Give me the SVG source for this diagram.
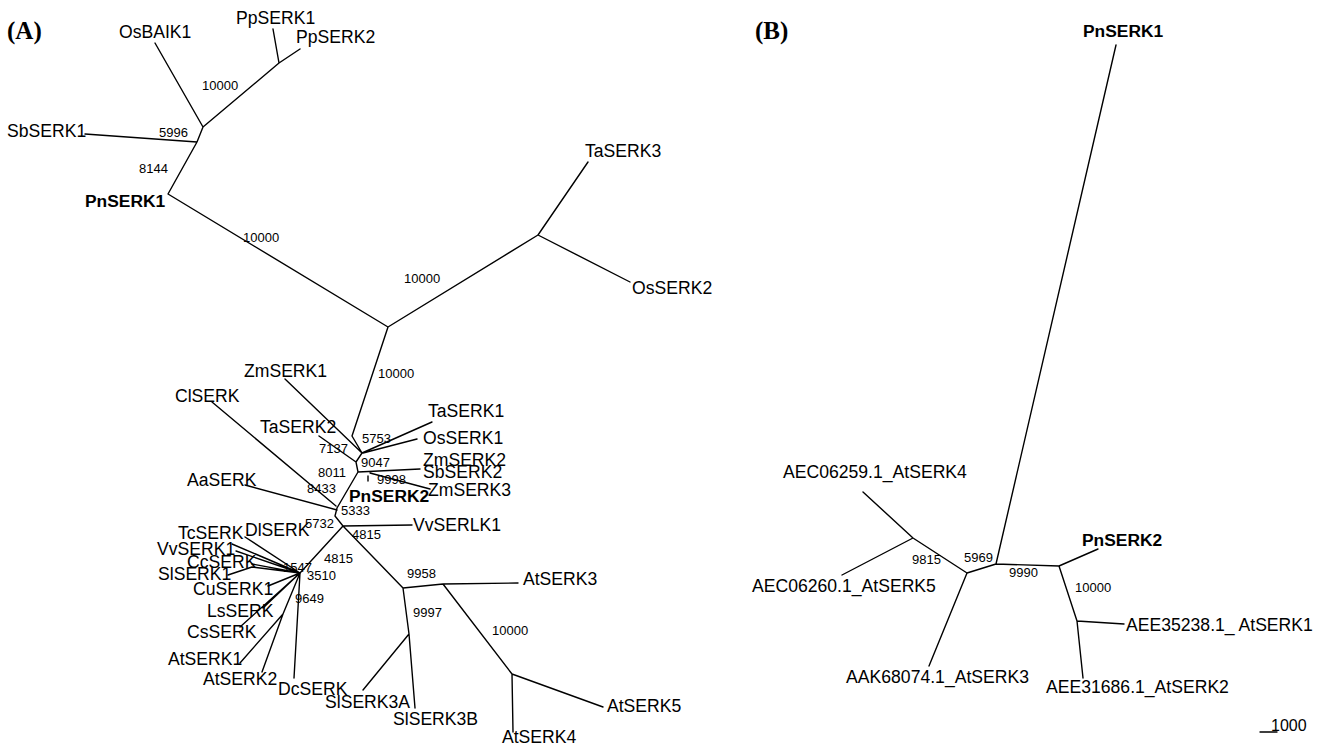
<svg xmlns="http://www.w3.org/2000/svg" width="1324" height="747" viewBox="0 0 1324 747">
<style>
.e{stroke:#000;stroke-width:1.4;fill:none;stroke-linecap:round;stroke-linejoin:round}
.l{font-family:"Liberation Sans",Arial,sans-serif;font-size:17.6px;fill:#000}
.b{font-family:"Liberation Sans",Arial,sans-serif;font-size:17.4px;font-weight:bold;fill:#000}
.n{font-family:"Liberation Sans",Arial,sans-serif;font-size:13px;fill:#000}
.p{font-family:"Liberation Serif","Times New Roman",serif;font-size:25px;font-weight:bold;fill:#000}
</style>
<rect width="1324" height="747" fill="#fff"/>
<text class="p" x="7" y="39">(A)</text>
<text class="p" x="755" y="39">(B)</text>
<g id="connectors">
<g id="treeA">
<path class="e" d="M155,43L203,127M273,29L279,63M300,49L279,63L203,127M85,134L197,142M203,127L197,142L168,194L388,327L538,235M538,235L588,162M538,235L630,282M388,327L352,436L362,453M285,379L362,453M432,422L362,453M417,439L363,453M362,453L356,462L358,472M319,436L356,462M358,472L420,469M370,473L430,489M368,476L368,481M358,472L337,508M212,402L336,506M245,485L337,510M337,508L335,516L343,526M343,526L412,525M343,526L300,573M343,526L403,588L443,584L518,583M443,584L512,674L513,732M512,674L603,707M403,588L409,634L415,708M409,634L363,690"/>
<path class="e" d="M300,573L245,537M300,573L232,544M300,573L236,551M300,573L252,564M228,575L252,567L300,573M300,573L268,586M300,573L263,608M300,573L240,627M300,573L283,614L240,663M283,614L262,672M300,573L294,678"/>
</g>
<g id="treeB">
<path class="e" d="M1116,45L996,564L967,573L913,538L863,492M913,538L842,575M967,573L929,666M996,564L1059,566L1098,549M1059,566L1077,621L1124,624M1077,621L1083,678"/>
</g>
<g id="bootstrap">
<text class="n" x="202" y="90">10000</text>
<text class="n" x="159" y="137">5996</text>
<text class="n" x="139" y="173">8144</text>
<text class="n" x="243" y="242">10000</text>
<text class="n" x="404" y="283">10000</text>
<text class="n" x="378" y="378">10000</text>
<text class="n" x="362" y="443">5753</text>
<text class="n" x="319" y="453">7137</text>
<text class="n" x="361" y="467">9047</text>
<text class="n" x="318" y="477">8011</text>
<text class="n" x="377" y="484">9998</text>
<text class="n" x="307" y="493">8433</text>
<text class="n" x="341" y="515">5333</text>
<text class="n" x="305" y="528">5732</text>
<text class="n" x="352" y="539">4815</text>
<text class="n" x="324" y="563">4815</text>
<text class="n" x="283" y="572">1547</text>
<text class="n" x="307" y="580">3510</text>
<text class="n" x="295" y="603">9649</text>
<text class="n" x="407" y="578">9958</text>
<text class="n" x="413" y="617">9997</text>
<text class="n" x="492" y="635">10000</text>
<text class="n" x="912" y="564">9815</text>
<text class="n" x="964" y="562">5969</text>
<text class="n" x="1009" y="577">9990</text>
<text class="n" x="1075" y="592">10000</text>
</g>
</g>
<g id="n-OsBAIK1"><text class="l" x="119" y="38">OsBAIK1</text></g>
<g id="n-PpSERK1"><text class="l" x="236" y="24">PpSERK1</text></g>
<g id="n-PpSERK2"><text class="l" x="296" y="43">PpSERK2</text></g>
<g id="n-SbSERK1"><text class="l" x="7" y="137">SbSERK1</text></g>
<g id="n-PnSERK1a"><text class="b" x="85" y="207">PnSERK1</text></g>
<g id="n-TaSERK3"><text class="l" x="585" y="157">TaSERK3</text></g>
<g id="n-OsSERK2"><text class="l" x="632" y="294">OsSERK2</text></g>
<g id="n-ZmSERK1"><text class="l" x="244" y="377">ZmSERK1</text></g>
<g id="n-ClSERK"><text class="l" x="175" y="402">ClSERK</text></g>
<g id="n-TaSERK2"><text class="l" x="260" y="433">TaSERK2</text></g>
<g id="n-TaSERK1"><text class="l" x="428" y="417">TaSERK1</text></g>
<g id="n-OsSERK1"><text class="l" x="423" y="444">OsSERK1</text></g>
<g id="n-ZmSERK2"><text class="l" x="423" y="466">ZmSERK2</text></g>
<g id="n-SbSERK2"><text class="l" x="423" y="478">SbSERK2</text></g>
<g id="n-ZmSERK3"><text class="l" x="428" y="496">ZmSERK3</text></g>
<g id="n-PnSERK2a"><text class="b" x="349" y="502">PnSERK2</text></g>
<g id="n-AaSERK"><text class="l" x="187" y="486">AaSERK</text></g>
<g id="n-VvSERLK1"><text class="l" x="413" y="531">VvSERLK1</text></g>
<g id="n-DlSERK"><text class="l" x="245" y="536">DlSERK</text></g>
<g id="n-TcSERK"><text class="l" x="178" y="539">TcSERK</text></g>
<g id="n-VvSERK1"><text class="l" x="157" y="555">VvSERK1</text></g>
<g id="n-CcSERK"><text class="l" x="187" y="568">CcSERK</text></g>
<g id="n-SlSERK1"><text class="l" x="158" y="580">SlSERK1</text></g>
<g id="n-CuSERK1"><text class="l" x="193" y="595">CuSERK1</text></g>
<g id="n-LsSERK"><text class="l" x="207" y="617">LsSERK</text></g>
<g id="n-CsSERK"><text class="l" x="187" y="638">CsSERK</text></g>
<g id="n-AtSERK1"><text class="l" x="168" y="665">AtSERK1</text></g>
<g id="n-AtSERK2"><text class="l" x="203" y="685">AtSERK2</text></g>
<g id="n-DcSERK"><text class="l" x="278" y="695">DcSERK</text></g>
<g id="n-SlSERK3A"><text class="l" x="325" y="708">SlSERK3A</text></g>
<g id="n-SlSERK3B"><text class="l" x="393" y="725">SlSERK3B</text></g>
<g id="n-AtSERK3"><text class="l" x="523" y="585">AtSERK3</text></g>
<g id="n-AtSERK4"><text class="l" x="502" y="743">AtSERK4</text></g>
<g id="n-AtSERK5"><text class="l" x="607" y="712">AtSERK5</text></g>
<g id="n-PnSERK1b"><text class="b" x="1083" y="37">PnSERK1</text></g>
<g id="n-AEC06259"><text class="l" x="783" y="478">AEC06259.1_AtSERK4</text></g>
<g id="n-AEC06260"><text class="l" x="752" y="592">AEC06260.1_AtSERK5</text></g>
<g id="n-AAK68074"><text class="l" x="1029" y="683" text-anchor="end">AAK68074.1_AtSERK3</text></g>
<g id="n-PnSERK2b"><text class="b" x="1082" y="546">PnSERK2</text></g>
<g id="n-AEE35238"><text class="l" x="1126" y="631">AEE35238.1_ AtSERK1</text></g>
<g id="n-AEE31686"><text class="l" x="1046" y="693">AEE31686.1_AtSERK2</text></g>
<g id="scale"><line class="e" x1="1260" y1="732" x2="1277" y2="732"/><text class="l" x="1271" y="731" style="font-size:16px">1000</text></g>
</svg>
